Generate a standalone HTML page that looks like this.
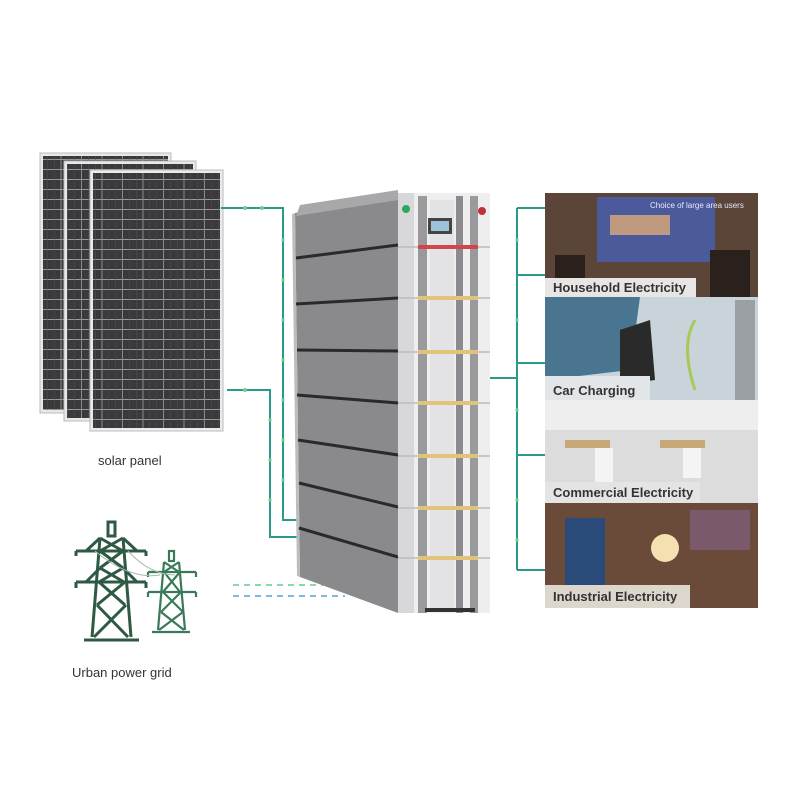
<!DOCTYPE html>
<html><head><meta charset="utf-8"><style>
body{margin:0;background:#fff;}
svg{display:block;font-family:"Liberation Sans",sans-serif;}
</style></head><body>
<svg width="800" height="800" viewBox="0 0 800 800" xmlns="http://www.w3.org/2000/svg">
<defs>
<pattern id="cells" x="0" y="0" width="20.5" height="10" patternUnits="userSpaceOnUse">
<rect width="20.5" height="10" fill="#3a3a3c"/>
<rect x="0" y="9" width="20.5" height="1" fill="#9a9a9c"/>
<rect x="19.5" y="0" width="1" height="10" fill="#8a8a8c"/>
<rect x="6" y="0" width="0.5" height="10" fill="#505052"/>
<rect x="13" y="0" width="0.5" height="10" fill="#505052"/>
</pattern>
<marker id="ar" viewBox="0 0 6 6" refX="3" refY="3" markerWidth="4" markerHeight="4" orient="auto"><path d="M0,0 L6,3 L0,6z" fill="#4caf7a"/></marker>
</defs>
<rect width="800" height="800" fill="#fff"/>

<!-- solar panels -->
<g>
<rect x="40" y="153" width="131" height="260" fill="#e8e8e8" stroke="#bbb"/>
<rect x="43" y="156" width="125" height="254" fill="url(#cells)"/>
<rect x="64" y="161" width="132" height="260" fill="#e8e8e8" stroke="#bbb"/>
<rect x="67" y="164" width="126" height="254" fill="url(#cells)"/>
<rect x="90" y="170" width="133" height="261" fill="#ebebeb" stroke="#bbb"/>
<rect x="93" y="173" width="127" height="255" fill="url(#cells)"/>
</g>
<text x="98" y="465" font-size="13" fill="#333">solar panel</text>

<!-- connectors -->
<g fill="none" stroke="#2a9a8a" stroke-width="2">
<polyline points="221,208 283,208 283,520 297,520"/>
<polyline points="227,390 270,390 270,537 299,537"/>
<polyline points="490,378 517,378"/>
<polyline points="517,208 517,570"/>
<polyline points="517,208 546,208"/>
<polyline points="517,275 546,275"/>
<polyline points="517,363 546,363"/>
<polyline points="517,455 546,455"/>
<polyline points="517,570 546,570"/>
</g>
<g fill="#6fcf8f">
<circle cx="245" cy="208" r="2"/><circle cx="262" cy="208" r="2"/>
<circle cx="283" cy="240" r="1.6"/><circle cx="283" cy="280" r="1.6"/><circle cx="283" cy="320" r="1.6"/><circle cx="283" cy="360" r="1.6"/><circle cx="283" cy="400" r="1.6"/><circle cx="283" cy="440" r="1.6"/><circle cx="283" cy="480" r="1.6"/>
<circle cx="245" cy="390" r="2"/><circle cx="270" cy="420" r="1.6"/><circle cx="270" cy="460" r="1.6"/><circle cx="270" cy="500" r="1.6"/>
<circle cx="517" cy="240" r="1.6"/><circle cx="517" cy="320" r="1.6"/><circle cx="517" cy="410" r="1.6"/><circle cx="517" cy="500" r="1.6"/><circle cx="517" cy="540" r="1.6"/>
</g>
<line x1="233" y1="585" x2="340" y2="585" stroke="#5ccf8a" stroke-width="1.5" stroke-dasharray="6,5"/>
<line x1="233" y1="596" x2="345" y2="596" stroke="#5aa0d0" stroke-width="1.5" stroke-dasharray="6,5"/>

<!-- battery -->
<polygon points="295,213 398,193 398,613 300,577" fill="#8a8a8c"/>
<polygon points="292,214 295,213 300,577 297,576" fill="#bdbdbd"/>
<g stroke="#2a2a2c" stroke-width="3">
<line x1="296" y1="258" x2="398" y2="245"/>
<line x1="296" y1="304" x2="398" y2="298"/>
<line x1="297" y1="350" x2="398" y2="351"/>
<line x1="297" y1="395" x2="398" y2="403"/>
<line x1="298" y1="440" x2="398" y2="455"/>
<line x1="299" y1="483" x2="398" y2="507"/>
<line x1="299" y1="528" x2="398" y2="557"/>
</g>
<polygon points="300,205 398,190 398,200 296,216" fill="#a8a8aa"/>
<rect x="398" y="193" width="92" height="420" fill="#eeeeef"/>
<rect x="398" y="193" width="16" height="420" fill="#d8d8da"/>
<rect x="418" y="196" width="9" height="417" fill="#9a9a9c"/>
<rect x="456" y="196" width="7" height="417" fill="#8a8a90"/>
<rect x="470" y="196" width="8" height="417" fill="#9a9a9c"/>
<rect x="430" y="200" width="24" height="410" fill="#e3e3e6"/>
<g stroke="#bcbcbe" stroke-width="1.5">
<line x1="398" y1="247" x2="490" y2="247"/><line x1="398" y1="298" x2="490" y2="298"/><line x1="398" y1="352" x2="490" y2="352"/><line x1="398" y1="403" x2="490" y2="403"/><line x1="398" y1="456" x2="490" y2="456"/><line x1="398" y1="508" x2="490" y2="508"/><line x1="398" y1="558" x2="490" y2="558"/>
</g>
<rect x="428" y="218" width="24" height="16" fill="#444"/><rect x="431" y="221" width="18" height="10" fill="#9cc3d8"/>
<circle cx="406" cy="209" r="4" fill="#2aa860"/><circle cx="482" cy="211" r="4" fill="#c0303a"/>
<rect x="418" y="245" width="60" height="4" fill="#d2454a"/>
<g fill="#e2c37a">
<rect x="418" y="296" width="60" height="4"/><rect x="418" y="350" width="60" height="4"/><rect x="418" y="401" width="60" height="4"/><rect x="418" y="454" width="60" height="4"/><rect x="418" y="506" width="60" height="4"/><rect x="418" y="556" width="60" height="4"/>
</g>
<rect x="425" y="608" width="50" height="4" fill="#333"/>

<!-- photos -->
<rect x="545" y="193" width="213" height="104" fill="#5a4538"/>
<rect x="597" y="197" width="118" height="65" fill="#4a5a9a"/>
<rect x="610" y="215" width="60" height="20" fill="#c09a80"/>
<text x="650" y="208" font-size="8" fill="#e8e8ff">Choice of large area users</text>
<rect x="555" y="255" width="30" height="40" fill="#2a201c"/><rect x="710" y="250" width="40" height="47" fill="#2a201c"/>
<rect x="545" y="278" width="151" height="19" fill="#e8e6e4"/>
<text x="553" y="292" font-size="13" font-weight="bold" fill="#333">Household Electricity</text>

<rect x="545" y="297" width="213" height="103" fill="#c8d4da"/>
<polygon points="545,297 640,297 630,370 545,380" fill="#4a7590"/>
<polygon points="620,330 650,320 655,380 620,385" fill="#2a2a2a"/>
<rect x="735" y="300" width="20" height="100" fill="#9aa0a4"/>
<path d="M695,320 Q680,345 695,390" stroke="#a8c858" stroke-width="3" fill="none"/>
<rect x="545" y="376" width="105" height="24" fill="#e2e6e8"/>
<text x="553" y="395" font-size="13" font-weight="bold" fill="#333">Car Charging</text>

<rect x="545" y="400" width="213" height="103" fill="#dcdcdc"/>
<rect x="545" y="400" width="213" height="30" fill="#eeeeee"/>
<rect x="565" y="440" width="45" height="8" fill="#c8a878"/><rect x="595" y="448" width="18" height="35" fill="#f4f4f4"/>
<rect x="660" y="440" width="45" height="8" fill="#c8a878"/><rect x="683" y="448" width="18" height="30" fill="#f4f4f4"/>
<rect x="545" y="482" width="155" height="21" fill="#e4e4e4"/>
<text x="553" y="497" font-size="13" font-weight="bold" fill="#333">Commercial Electricity</text>

<rect x="545" y="503" width="213" height="105" fill="#6a4a38"/>
<rect x="565" y="518" width="40" height="70" fill="#2a4a7a"/>
<circle cx="665" cy="548" r="14" fill="#f4e0b0"/>
<rect x="690" y="510" width="60" height="40" fill="#7a5a6a"/>
<rect x="545" y="585" width="145" height="23" fill="#ddd6cc"/>
<text x="553" y="601" font-size="13" font-weight="bold" fill="#333">Industrial Electricity</text>

<!-- towers -->
<g stroke="#2e5a44" stroke-width="3" fill="none">
<rect x="108" y="522" width="7" height="14"/>
<line x1="100" y1="538" x2="92" y2="637"/><line x1="123" y1="538" x2="131" y2="637"/>
<line x1="84" y1="640" x2="139" y2="640"/>
<line x1="76" y1="551" x2="146" y2="551"/><line x1="76" y1="551" x2="76" y2="556"/><line x1="146" y1="551" x2="146" y2="556"/>
<line x1="76" y1="582" x2="146" y2="582"/><line x1="76" y1="582" x2="76" y2="588"/><line x1="146" y1="582" x2="146" y2="588"/>
<line x1="86" y1="551" x2="100" y2="538"/><line x1="137" y1="551" x2="123" y2="538"/>
<line x1="86" y1="582" x2="100" y2="568"/><line x1="137" y1="582" x2="123" y2="568"/>
<path d="M100,538 L123,551 M123,538 L100,551 M100,551 L123,568 M123,551 L100,568 M100,568 L124,582 M123,568 L99,582 M99,582 L125,605 M125,582 L97,605 M97,605 L128,637 M126,605 L94,637"/>
</g>
<g stroke="#3a7a5a" stroke-width="2.2" fill="none">
<rect x="169" y="551" width="5" height="10"/>
<line x1="164" y1="562" x2="158" y2="630"/><line x1="179" y1="562" x2="185" y2="630"/>
<line x1="152" y1="632" x2="190" y2="632"/>
<line x1="148" y1="572" x2="196" y2="572"/><line x1="148" y1="592" x2="196" y2="592"/>
<line x1="148" y1="572" x2="148" y2="577"/><line x1="196" y1="572" x2="196" y2="577"/>
<line x1="148" y1="592" x2="148" y2="597"/><line x1="196" y1="592" x2="196" y2="597"/>
<path d="M164,562 L179,572 M179,562 L164,572 M164,572 L180,592 M180,572 L163,592 M163,592 L183,612 M181,592 L161,612 M161,612 L184,630 M183,612 L159,630"/>
</g>
<path d="M95,551 Q130,580 160,575 M128,551 Q150,575 175,575" stroke="#aab8b0" stroke-width="1" fill="none"/>
<text x="72" y="677" font-size="13" fill="#333">Urban power grid</text>
</svg>
</body></html>
